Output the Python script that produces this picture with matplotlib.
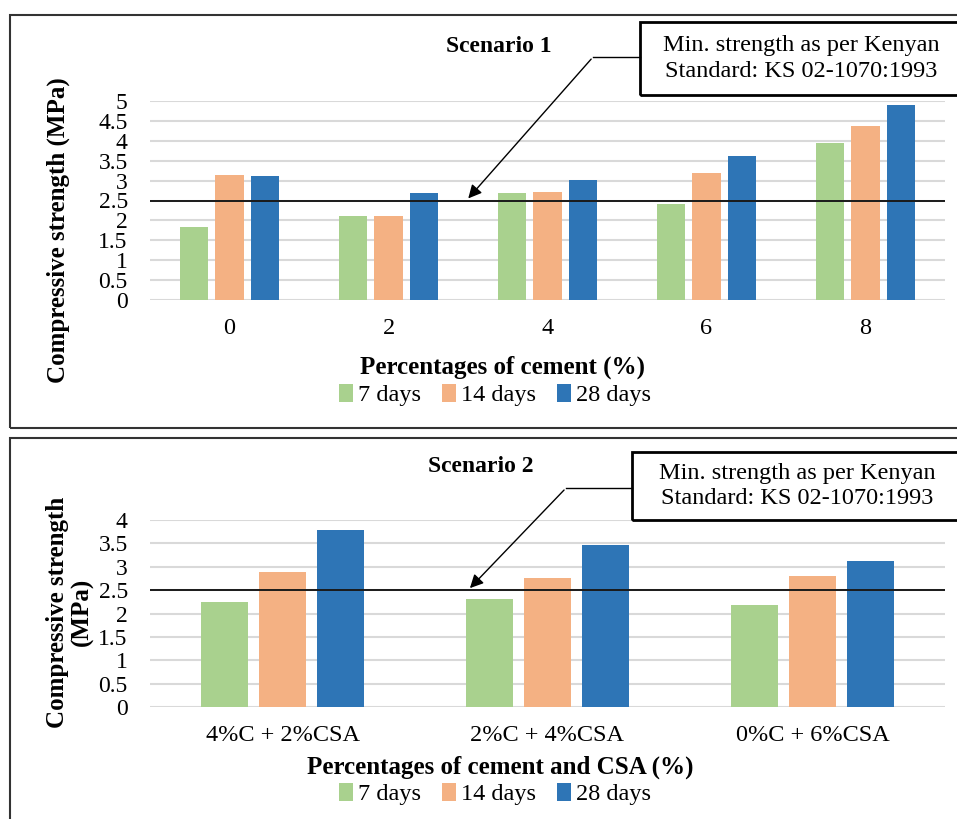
import numpy as np
import matplotlib.pyplot as plt
from matplotlib.patches import Rectangle, Patch

plt.rcParams['font.family'] = ['Liberation Serif', 'DejaVu Serif']

# 数据
series = ['7 days', '14 days', '28 days']
colors = ['#A9D18E', '#F4B183', '#2E75B6']

cats1 = ['0', '2', '4', '6', '8']
s1_7 = [1.84, 2.11, 2.68, 2.41, 3.95]
s1_14 = [3.14, 2.11, 2.71, 3.19, 4.37]
s1_28 = [3.11, 2.68, 3.01, 3.61, 4.91]

cats2 = ['4%C + 2%CSA', '2%C + 4%CSA', '0%C + 6%CSA']
s2_7 = [2.24, 2.32, 2.18]
s2_14 = [2.89, 2.75, 2.81]
s2_28 = [3.78, 3.46, 3.12]

min_strength = 2.5
note = 'Min. strength as per Kenyan\nStandard: KS 02-1070:1993'

fig = plt.figure(figsize=(9.57, 8.19), dpi=100)
W, H = 957, 819


def fx(x):
    return x / W


def fy(y):
    return 1 - y / H


def panel(rect, cats, data, ymax, step, width, title, xlabel, ylabel,
          title_y, label_y, legend_y, box_xy, elbow, arrow_x, ylab_xy):
    l, t, r, b = rect
    ax = fig.add_axes([fx(l), fy(b), fx(r) - fx(l), fy(t) - fy(b)])
    x = np.arange(len(cats))
    for i, vals in enumerate(data):
        ax.bar(x + (i - 1) * step, vals, width, color=colors[i], zorder=3)
    ax.set_xlim(-0.5, len(cats) - 0.5)
    ax.set_ylim(0, ymax)
    ticks = np.arange(0, ymax + 0.01, 0.5)
    ax.set_yticks(ticks)
    ax.set_yticklabels(['%g' % v for v in ticks], fontsize=17)
    ax.set_xticks(x)
    ax.set_xticklabels(cats, fontsize=17.5)
    ax.tick_params(length=0)
    ax.tick_params(axis='y', pad=16)
    ax.tick_params(axis='x', pad=13)
    ax.grid(axis='y', color='#D9D9D9', lw=1.5, zorder=0)
    for s in ax.spines.values():
        s.set_visible(False)
    ax.axhline(min_strength, color='#1a1a1a', lw=1.4, zorder=4)

    fig.text(fx(title_y[0]), fy(title_y[1]), title, ha='center', va='center',
             fontsize=17, fontweight='bold')
    fig.text(fx(label_y[0]), fy(label_y[1]), xlabel, ha='center', va='center',
             fontsize=18, fontweight='bold')
    fig.text(fx(ylab_xy[0]), fy(ylab_xy[1]), ylabel, ha='center', va='center', rotation=90,
             fontsize=18, fontweight='bold', linespacing=1.05)

    handles = [Patch(facecolor=c) for c in colors]
    fig.legend(handles, series, loc='center', bbox_to_anchor=(fx(495), fy(legend_y)),
               ncol=3, frameon=False, fontsize=17.5, handlelength=0.55, handleheight=0.8,
               handletextpad=0.2, columnspacing=0.9)

    bx0, by0, bx1, by1 = box_xy
    fig.patches.append(Rectangle((fx(bx0), fy(by1)), fx(bx1) - fx(bx0), fy(by0) - fy(by1),
                                 transform=fig.transFigure, fill=False, ec='black', lw=2))
    fig.text(fx((bx0 + 957) / 2 + 3), fy((by0 + by1) / 2), note, ha='center', va='center',
             fontsize=17.5, linespacing=1.3)
    fig.add_artist(plt.Line2D([fx(bx0), fx(elbow[0])], [fy(elbow[1]), fy(elbow[1])],
                              transform=fig.transFigure, color='black', lw=1))
    ax.annotate('', xy=(arrow_x, min_strength), xycoords='data',
                xytext=(fx(elbow[0]), fy(elbow[1])), textcoords='figure fraction',
                arrowprops=dict(arrowstyle='-|>', color='black', lw=1, mutation_scale=20),
                zorder=6)
    return ax


# 边框
fig.patches.append(Rectangle((fx(10), fy(428)), 1, fy(15) - fy(428), transform=fig.transFigure,
                             fill=False, ec='#333333', lw=1.5))
fig.patches.append(Rectangle((fx(10), -0.1), 1, fy(438) + 0.1, transform=fig.transFigure,
                             fill=False, ec='#333333', lw=1.5))

panel((150, 101, 945, 300), cats1, [s1_7, s1_14, s1_28], 5, 0.223, 0.18,
      'Scenario 1', 'Percentages of cement (%)', 'Compressive strength (MPa)',
      (499, 46), (502, 367), 395, (640, 22, 960, 95), (593, 57), 1.49, (58, 230))

panel((150, 520, 945, 707), cats2, [s2_7, s2_14, s2_28], 4, 0.219, 0.174,
      'Scenario 2', 'Percentages of cement and CSA (%)', 'Compressive strength\n(MPa)',
      (481, 467), (500, 767), 794, (632, 452, 960, 520), (566, 488), 0.7, (70, 612))

fig.savefig('out.png', dpi=100)
